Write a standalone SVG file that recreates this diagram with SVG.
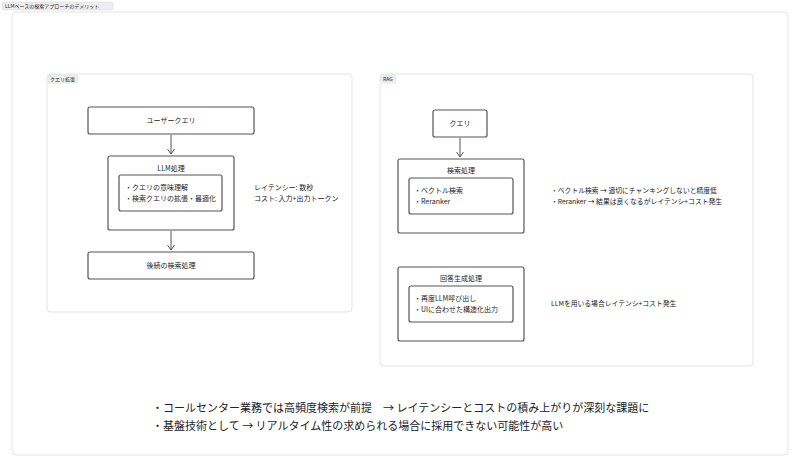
<svg xmlns="http://www.w3.org/2000/svg" width="800" height="468" viewBox="0 0 800 468">
<style>
text{font-family:"Noto Sans CJK JP","Noto Sans",sans-serif;fill:#222}
.box{fill:#fff;stroke:#555;stroke-width:1.2}
.panel{fill:#fff;stroke:#e4e4e4;stroke-width:1}
.tag{fill:#eee;stroke:#ddd;stroke-width:0.6}
.t{font-size:7px}
.n{font-size:6.8px}
.s{font-size:5px}
.c{text-anchor:middle}
.big{font-size:11px}
.ln{stroke:#555;stroke-width:1;fill:none}
</style>
<defs><marker id="ah" markerWidth="8" markerHeight="8" refX="6" refY="4" orient="auto" markerUnits="userSpaceOnUse"><path d="M1,0.5 L6,4 L1,7.5" fill="none" stroke="#555" stroke-width="1"/></marker></defs>
<rect width="800" height="468" fill="#fff"/>
<rect x="2" y="2" width="111" height="8" rx="2" class="tag"/><text x="5" y="8.3" class="s">LLMベースの検索アプローチのデメリット</text>
<rect x="12" y="12" width="776" height="443" rx="4" class="panel"/>
<g id="panel-left"><rect x="47" y="74" width="305" height="238" rx="4" class="panel"/><rect x="48" y="75" width="30" height="8" rx="2" class="tag"/><text x="50" y="81.3" class="s">クエリ拡張</text></g>
<g id="panel-rag"><rect x="380" y="74" width="373" height="292" rx="4" class="panel"/><rect x="381" y="75" width="15" height="8" rx="2" class="tag"/><text x="383" y="81.3" class="s">RAG</text></g>
<g id="user-query"><rect x="88" y="107" width="166" height="27" rx="2" class="box"/><text x="171" y="123" class="t c">ユーザークエリ</text></g>
<g id="llm"><rect x="108" y="156" width="126" height="74" rx="2" class="box"/><text x="171" y="171" class="t c">LLM処理</text><rect x="119" y="175" width="103" height="36" rx="2" class="box"/><text x="125" y="190" class="t">・クエリの意味理解</text><text x="125" y="201" class="t">・検索クエリの拡張・最適化</text></g>
<g id="llm-note"><text x="254" y="190" class="t">レイテンシー: 数秒</text><text x="254" y="201" class="t">コスト: 入力+出力トークン</text></g>
<g id="post"><rect x="88" y="252" width="166" height="27" rx="2" class="box"/><text x="171" y="268" class="t c">後続の検索処理</text></g>
<g id="rag-query"><rect x="433" y="110" width="54" height="27" rx="2" class="box"/><text x="460" y="126" class="t c">クエリ</text></g>
<g id="search"><rect x="398" y="159" width="126" height="74" rx="2" class="box"/><text x="461" y="173" class="t c">検索処理</text><rect x="409" y="178" width="104" height="36" rx="2" class="box"/><text x="414" y="193" class="t">・ベクトル検索</text><text x="414" y="204" class="t">・Reranker</text></g>
<g id="search-note"><text x="551" y="193" class="n">・ベクトル検索 → 適切にチャンキングしないと精度低</text><text x="551" y="204" class="n">・Reranker → 結果は良くなるがレイテンシ+コスト発生</text></g>
<g id="gen"><rect x="398" y="267" width="126" height="74" rx="2" class="box"/><text x="461" y="281" class="t c">回答生成処理</text><rect x="409" y="286" width="104" height="36" rx="2" class="box"/><text x="414" y="301" class="t">・再度LLM呼び出し</text><text x="414" y="312" class="t">・UIに合わせた構造化出力</text></g>
<g id="gen-note"><text x="551" y="306" class="n">LLMを用いる場合レイテンシ+コスト発生</text></g>
<g id="connectors">
<line x1="171" y1="135" x2="171" y2="154" class="ln" marker-end="url(#ah)"/>
<line x1="171" y1="231" x2="171" y2="250" class="ln" marker-end="url(#ah)"/>
<line x1="460" y1="138" x2="460" y2="157" class="ln" marker-end="url(#ah)"/>
</g>
<g id="summary"><text x="152" y="412" class="big">・コールセンター業務では高頻度検索が前提　→ レイテンシーとコストの積み上がりが深刻な課題に</text><text x="152" y="430" class="big">・基盤技術として → リアルタイム性の求められる場合に採用できない可能性が高い</text></g>
</svg>
